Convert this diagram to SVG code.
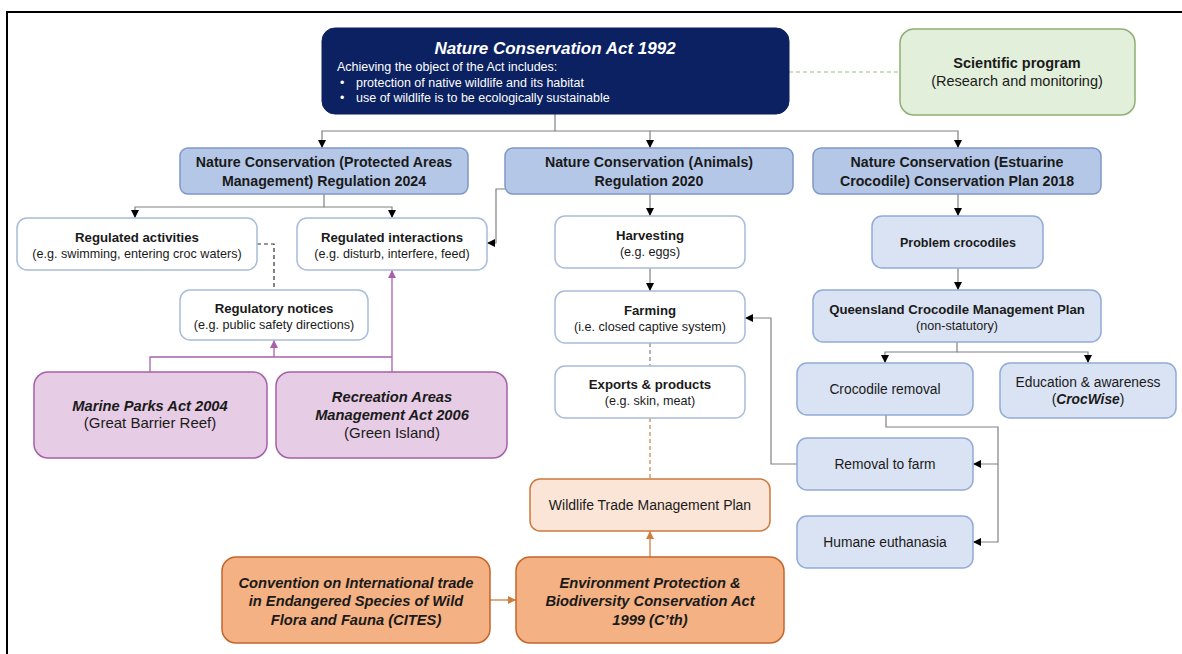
<svg xmlns="http://www.w3.org/2000/svg" width="1182" height="654" viewBox="0 0 1182 654">
<style>
text{font-family:"Liberation Sans",Arial,sans-serif;text-anchor:middle;fill:#1a1a1a}
.b{font-weight:bold}
.bi{font-weight:bold;font-style:italic}
.t2{font-size:14.2px;font-weight:bold}
.s{font-size:12.6px}
.m{font-size:13.2px}
.n{font-size:13.8px}
.big{font-size:14.7px}
.w{font-size:12.5px;fill:#fff;text-anchor:start}
.lvl2{fill:#b4c7e7;stroke:#7f98c8;stroke-width:1.5}
.wht{fill:#ffffff;stroke:#a9bcd9;stroke-width:1.5}
.lb{fill:#dae3f3;stroke:#93abd6;stroke-width:1.5}
.pur{fill:#e7cce6;stroke:#a660a8;stroke-width:1.5}
.lor{fill:#fbe5d6;stroke:#cc7a3c;stroke-width:1.5}
.or{fill:#f4b183;stroke:#c4652a;stroke-width:1.5}
.c{fill:none;stroke:#808080;stroke-width:1.2}
.cp{fill:none;stroke:#a862aa;stroke-width:1.3}
.co{fill:none;stroke:#d07d40;stroke-width:1.3}
</style>
<defs>
<marker id="ah" viewBox="0 0 10 10" refX="10" refY="5" markerWidth="8" markerHeight="8" markerUnits="userSpaceOnUse" orient="auto"><path d="M0,0L10,5L0,10Z" fill="#000"/></marker>
<marker id="ahp" viewBox="0 0 10 10" refX="10" refY="5" markerWidth="8" markerHeight="8" markerUnits="userSpaceOnUse" orient="auto"><path d="M0,0L10,5L0,10Z" fill="#a862aa"/></marker>
<marker id="aho" viewBox="0 0 10 10" refX="10" refY="5" markerWidth="8" markerHeight="8" markerUnits="userSpaceOnUse" orient="auto"><path d="M0,0L10,5L0,10Z" fill="#d07d40"/></marker>
</defs>
<rect width="1182" height="654" fill="#fff"/>
<path d="M7,654V12H1182" fill="none" stroke="#000" stroke-width="2"/>

<g id="connectors">
<path class="c" d="M555,114V131H322V148" marker-end="url(#ah)"/>
<path class="c" d="M555,131H650V148" marker-end="url(#ah)"/>
<path class="c" d="M650,131H958V148" marker-end="url(#ah)"/>
<path d="M789,72H900" fill="none" stroke="#9dbb82" stroke-width="1.2" stroke-dasharray="4,3"/>
<path class="c" d="M324,194V207H135V218" marker-end="url(#ah)"/>
<path class="c" d="M324,207H392V218" marker-end="url(#ah)"/>
<path class="c" d="M505,189H496V243H487" marker-end="url(#ah)"/>
<path d="M257,244H274V290" fill="none" stroke="#333" stroke-width="1.2" stroke-dasharray="4,3"/>
<path class="cp" d="M150,372V357H392"/>
<path class="cp" d="M392,372V270" marker-end="url(#ahp)"/>
<path class="cp" d="M274,357V340" marker-end="url(#ahp)"/>
<path class="c" d="M650,194V216" marker-end="url(#ah)"/>
<path class="c" d="M650,268V291" marker-end="url(#ah)"/>
<path d="M650,343V366" fill="none" stroke="#808080" stroke-width="1.2" stroke-dasharray="4,3"/>
<path d="M650,418V479" fill="none" stroke="#d07d40" stroke-width="1.2" stroke-dasharray="4,3"/>
<path class="co" d="M650,557V531" marker-end="url(#aho)"/>
<path class="co" d="M490,600H516" marker-end="url(#aho)"/>
<path class="c" d="M958,194V216" marker-end="url(#ah)"/>
<path class="c" d="M958,268V290" marker-end="url(#ah)"/>
<path class="c" d="M957,342V352H885V363" marker-end="url(#ah)"/>
<path class="c" d="M957,352H1088V363" marker-end="url(#ah)"/>
<path class="c" d="M886,415V427H998V464H973" marker-end="url(#ah)"/>
<path class="c" d="M998,464V542H973" marker-end="url(#ah)"/>
<path class="c" d="M797,464H771V318H745" marker-end="url(#ah)"/>
</g>

<g id="nca">
<rect x="322" y="28" width="467" height="86" rx="13" fill="#0b2161" stroke="#0b2161"/>
<text x="555" y="54" class="bi" style="font-size:17px;fill:#fff">Nature Conservation Act 1992</text>
<text x="337" y="71" class="w">Achieving the object of the Act includes:</text>
<text x="340" y="87" class="w">•</text>
<text x="356" y="87" class="w">protection of native wildlife and its habitat</text>
<text x="340" y="102" class="w">•</text>
<text x="356" y="102" class="w">use of wildlife is to be ecologically sustainable</text>
</g>
<g id="sci">
<rect x="900" y="29" width="235" height="86" rx="14" fill="#e2efda" stroke="#8fae73" stroke-width="1.5"/>
<text x="1017" y="68" class="b" style="font-size:14.5px">Scientific program</text>
<text x="1017" y="86" style="font-size:14.5px">(Research and monitoring)</text>
</g>
<g id="pam">
<rect x="180" y="148" width="288" height="46" rx="8" class="lvl2"/>
<text x="324" y="167" class="t2">Nature Conservation (Protected Areas</text>
<text x="324" y="186" class="t2">Management) Regulation 2024</text>
</g>
<g id="animals">
<rect x="505" y="148" width="288" height="46" rx="8" class="lvl2"/>
<text x="649" y="167" class="t2">Nature Conservation (Animals)</text>
<text x="649" y="186" class="t2">Regulation 2020</text>
</g>
<g id="estuarine">
<rect x="813" y="148" width="288" height="46" rx="8" class="lvl2"/>
<text x="957" y="167" class="t2">Nature Conservation (Estuarine</text>
<text x="957" y="186" class="t2">Crocodile) Conservation Plan 2018</text>
</g>
<g id="reg-activities">
<rect x="17" y="218" width="240" height="52" rx="10" class="wht"/>
<text x="137" y="242" class="b m">Regulated activities</text>
<text x="137" y="258" class="s">(e.g. swimming, entering croc waters)</text>
</g>
<g id="reg-interactions">
<rect x="297" y="218" width="190" height="52" rx="10" class="wht"/>
<text x="392" y="242" class="b m">Regulated interactions</text>
<text x="392" y="258" class="s">(e.g. disturb, interfere, feed)</text>
</g>
<g id="reg-notices">
<rect x="180" y="290" width="188" height="50" rx="10" class="wht"/>
<text x="274" y="313" class="b m">Regulatory notices</text>
<text x="274" y="329" class="s">(e.g. public safety directions)</text>
</g>
<g id="marine">
<rect x="34" y="372" width="233" height="86" rx="14" class="pur"/>
<text x="150" y="411" class="bi big">Marine Parks Act 2004</text>
<text x="150" y="428" style="font-size:15px">(Great Barrier Reef)</text>
</g>
<g id="recreation">
<rect x="276" y="372" width="231" height="86" rx="14" class="pur"/>
<text x="392" y="402" class="bi big">Recreation Areas</text>
<text x="392" y="420" class="bi big">Management Act 2006</text>
<text x="392" y="438" style="font-size:15px">(Green Island)</text>
</g>
<g id="harvesting">
<rect x="555" y="216" width="190" height="52" rx="10" class="wht"/>
<text x="650" y="240" class="b m">Harvesting</text>
<text x="650" y="256" class="s">(e.g. eggs)</text>
</g>
<g id="farming">
<rect x="555" y="291" width="190" height="52" rx="10" class="wht"/>
<text x="650" y="315" class="b m">Farming</text>
<text x="650" y="331" class="s">(i.e. closed captive system)</text>
</g>
<g id="exports">
<rect x="555" y="366" width="190" height="52" rx="10" class="wht"/>
<text x="650" y="389" class="b m">Exports &amp; products</text>
<text x="650" y="405" class="s">(e.g. skin, meat)</text>
</g>
<g id="wtmp">
<rect x="530" y="479" width="240" height="52" rx="10" class="lor"/>
<text x="650" y="510" style="font-size:14px">Wildlife Trade Management Plan</text>
</g>
<g id="cites">
<rect x="222" y="557" width="268" height="86" rx="14" class="or"/>
<text x="356" y="588" class="bi big">Convention on International trade</text>
<text x="356" y="606" class="bi big">in Endangered Species of Wild</text>
<text x="356" y="625" class="bi big">Flora and Fauna (CITES)</text>
</g>
<g id="epbc">
<rect x="516" y="557" width="268" height="86" rx="14" class="or"/>
<text x="650" y="588" class="bi big">Environment Protection &amp;</text>
<text x="650" y="606" class="bi big">Biodiversity Conservation Act</text>
<text x="650" y="625" class="bi big">1999 (C’th)</text>
</g>
<g id="problem">
<rect x="872" y="216" width="171" height="52" rx="10" class="lb"/>
<text x="958" y="247" class="b" style="font-size:12.5px">Problem crocodiles</text>
</g>
<g id="qcmp">
<rect x="813" y="290" width="288" height="52" rx="10" class="lb"/>
<text x="957" y="314" class="b m">Queensland Crocodile Management Plan</text>
<text x="957" y="330" class="s">(non-statutory)</text>
</g>
<g id="removal">
<rect x="797" y="363" width="176" height="52" rx="10" class="lb"/>
<text x="885" y="394" class="n">Crocodile removal</text>
</g>
<g id="education">
<rect x="1000" y="363" width="176" height="55" rx="10" class="lb"/>
<text x="1088" y="387" class="n">Education &amp; awareness</text>
<text x="1088" y="404" class="n">(<tspan class="bi">CrocWise</tspan>)</text>
</g>
<g id="farm">
<rect x="797" y="438" width="176" height="52" rx="10" class="lb"/>
<text x="885" y="469" class="n">Removal to farm</text>
</g>
<g id="euthanasia">
<rect x="797" y="516" width="176" height="52" rx="10" class="lb"/>
<text x="885" y="547" class="n">Humane euthanasia</text>
</g>
</svg>
